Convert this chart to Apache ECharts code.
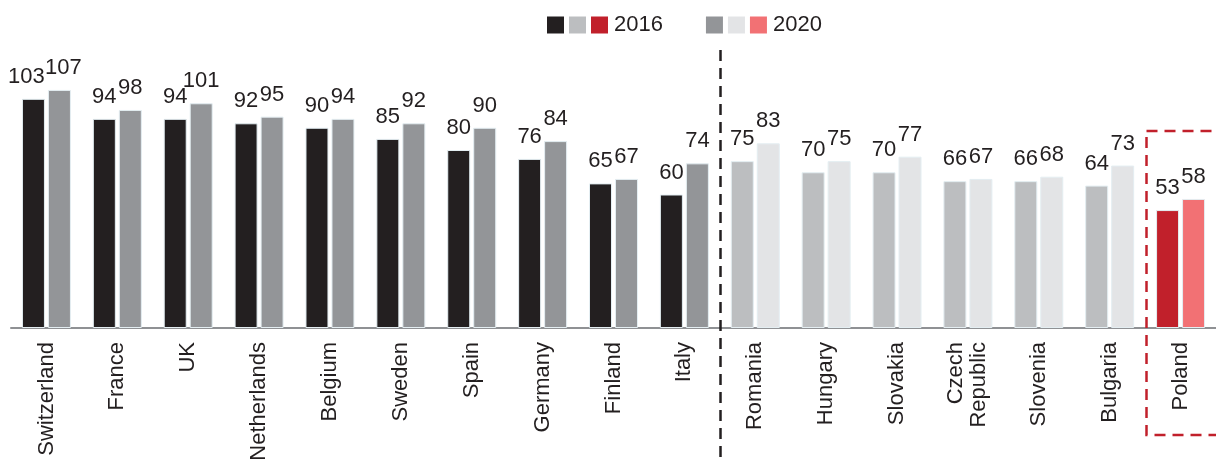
<!DOCTYPE html>
<html>
<head>
<meta charset="utf-8">
<style>
  html, body { margin: 0; padding: 0; background: #ffffff; }
  #chart { width: 1216px; height: 464px; }
</style>
<script src="https://cdn.jsdelivr.net/npm/echarts@6/dist/echarts.min.js"></script>
</head>
<body>
<div id="chart"></div>
<script>
// Countries, grouped: Western Europe, then CEE peers, then Poland
const categories = [
  'Switzerland', 'France', 'UK', 'Netherlands', 'Belgium', 'Sweden', 'Spain',
  'Germany', 'Finland', 'Italy',
  'Romania', 'Hungary', 'Slovakia', 'Czech\nRepublic', 'Slovenia', 'Bulgaria',
  'Poland'
];
const groups = [
  'west', 'west', 'west', 'west', 'west', 'west', 'west', 'west', 'west', 'west',
  'cee', 'cee', 'cee', 'cee', 'cee', 'cee',
  'pl'
];
const values2016 = [103, 94, 94, 92, 90, 85, 80, 76, 65, 60, 75, 70, 70, 66, 66, 64, 53];
const values2020 = [107, 98, 101, 95, 94, 92, 90, 84, 67, 74, 83, 75, 77, 67, 68, 73, 58];

const palette = {
  '2016': { west: '#231f20', cee: '#bcbec0', pl: '#c1202b' },
  '2020': { west: '#939598', cee: '#e3e4e6', pl: '#f27174' }
};

const FONT = '"Liberation Sans", Arial, Helvetica, sans-serif';
const INK = '#231f20';
const FS = 22;

function buildData(values, year) {
  return values.map((v, i) => {
    const item = { value: v, itemStyle: { color: palette[year][groups[i]] } };
    // keep the wide three-digit pair at the first category from colliding
    if (i === 0 && year === '2016') item.label = { offset: [-7, 0] };
    if (i === 0 && year === '2020') item.label = { offset: [4, 0] };
    return item;
  });
}

const chart = echarts.init(document.getElementById('chart'), null, { renderer: 'canvas' });

const barLabel = {
  show: true,
  position: 'top',
  distance: 11,
  color: INK,
  fontFamily: FONT,
  fontSize: FS
};

const legendRich = {
  g: { width: 5, height: 17 },
  t: { fontSize: FS, fontFamily: FONT, color: INK, padding: [0, 0, 0, 1] }
};
['2016', '2020'].forEach(y => {
  legendRich['c' + y] = { width: 17, height: 17, backgroundColor: palette[y].cee };
  legendRich['p' + y] = { width: 17, height: 17, backgroundColor: palette[y].pl };
});

chart.setOption({
  animation: false,
  textStyle: { fontFamily: FONT },
  grid: { left: 11, top: 61, width: 1207, bottom: 136, containLabel: false },
  legend: {
    top: 9,
    left: 542,
    itemWidth: 17,
    itemHeight: 17,
    itemGap: 43,
    icon: 'rect',
    itemStyle: { borderWidth: 0 },
    formatter: name => `{c${name}|}{g|}{p${name}|}{g|}{t|${name}}`,
    textStyle: { rich: legendRich }
  },
  xAxis: {
    type: 'category',
    data: categories,
    axisLine: { lineStyle: { color: '#8f9194', width: 2 } },
    axisTick: { show: false },
    axisLabel: {
      rotate: 90,
      interval: 0,
      margin: 14,
      color: INK,
      fontFamily: FONT,
      fontSize: FS,
      lineHeight: 23
    }
  },
  yAxis: {
    type: 'value',
    min: 0,
    max: 120,
    show: false,
    splitLine: { show: false }
  },
  series: [
    {
      name: '2016',
      type: 'bar',
      barWidth: 23,
      barGap: '13%',
      itemStyle: { color: palette['2016'].west, borderColor: '#e4eef2', borderWidth: 1 },
      label: barLabel,
      data: buildData(values2016, '2016')
    },
    {
      name: '2020',
      type: 'bar',
      barWidth: 23,
      barGap: '13%',
      itemStyle: { color: palette['2020'].west, borderColor: '#e4eef2', borderWidth: 1 },
      label: barLabel,
      data: buildData(values2020, '2020')
    }
  ]
});

// Divider between the Western group and the CEE group, and a frame around Poland
const xItaly = chart.convertToPixel({ xAxisIndex: 0 }, 'Italy');
const xRomania = chart.convertToPixel({ xAxisIndex: 0 }, 'Romania');
const xBulgaria = chart.convertToPixel({ xAxisIndex: 0 }, 'Bulgaria');
const xPoland = chart.convertToPixel({ xAxisIndex: 0 }, 'Poland');
const divX = Math.round((xItaly + xRomania) / 2) + 0.5;
const boxLeft = Math.round((xBulgaria + xPoland) / 2) + 1.5;

chart.setOption({
  graphic: [
    {
      type: 'line',
      silent: true,
      shape: { x1: divX, y1: 50, x2: divX, y2: 464 },
      style: { stroke: '#231f20', lineWidth: 2.5, lineDash: [11, 7] },
      z: 10
    },
    {
      type: 'rect',
      silent: true,
      shape: { x: boxLeft, y: 131, width: 1216 - boxLeft + 40, height: 304 },
      style: { fill: 'none', stroke: '#c1202b', lineWidth: 2.5, lineDash: [11, 7] },
      z: 10
    }
  ]
});
</script>
</body>
</html>
